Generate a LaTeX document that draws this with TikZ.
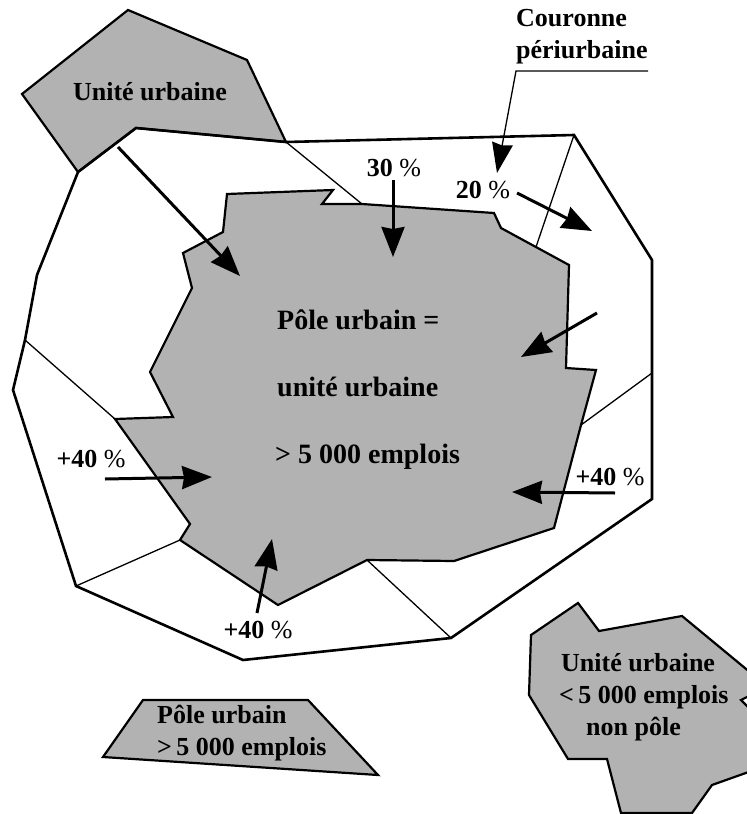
\documentclass[tikz,border=0pt]{standalone}
\usepackage{xcolor}
\usepackage{fontspec}
\setmainfont{Liberation Serif}
\usetikzlibrary{positioning, arrows.meta}
\definecolor{polegray}{RGB}{178,178,178}
\newcommand{\pct}{\textmd{\%}}

\begin{document}
\begin{tikzpicture}[x=1pt, y=-1pt]

	% Styles
	\tikzset{
		zone/.style={draw=black, line width=2.2pt, fill=polegray, line join=miter},
		ring/.style={draw=black, line width=2.6pt, line join=miter},
		border/.style={draw=black, line width=1.3pt},
		label/.style={font=\bfseries\fontsize{26}{32}\selectfont, inner sep=0pt, align=left},
		biglabel/.style={label, font=\bfseries\fontsize{28}{34}\selectfont},
		arrow/.style={line width=3pt, -{Stealth[length=30pt, width=23pt, inset=2pt]}},
		leader/.style={line width=1.3pt, -{Stealth[length=30pt, width=21pt, inset=2pt]}}
	}

	\useasboundingbox (0,0) rectangle (747,814);
	\clip (0,0) rectangle (747,814);

	% Urban pole
	\draw[zone] (227,194) -- (333,190) -- (322,204) -- (362,204) -- (494,213) -- (501,228)
		-- (569,265) -- (566,368) -- (596,370) -- (581,425) -- (554,528) -- (454,561)
		-- (367,560) -- (278,605) -- (180,540) -- (190,524) -- (115,419) -- (173,417)
		-- (150,372) -- (192,288) -- (183,253) -- (223,232) -- cycle;

	% Neighbouring urban unit
	\draw[zone] (128,10) -- (247,60) -- (286,142) -- (136,128) -- (78,172) -- (22,94) -- cycle;

	% Outer ring
	\draw[ring] (78,172) -- (136,128) -- (286,142) -- (574,135) -- (652,260) -- (652,499)
		-- (451,638) -- (243,660) -- (76,586) -- (13,390) -- (25,340) -- (37,275) -- cycle;

	% Commune borders
	\draw[border] (286,142) -- (362,204);
	\draw[border] (574,135) -- (536,247);
	\draw[border] (652,373) -- (581,425);
	\draw[border] (25,340) -- (115,419);
	\draw[border] (76,586) -- (180,540);
	\draw[border] (367,560) -- (451,638);

	% Legend shapes
	\draw[zone] (143,700) -- (308,700) -- (378,775) -- (103,757) -- cycle;
	\draw[zone] (578,603) -- (599,631) -- (682,616) -- (757,678) -- (757,692) -- (741,700)
		-- (757,716) -- (757,769) -- (712,785) -- (692,813) -- (621,813) -- (607,759)
		-- (568,759) -- (529,695) -- (531,635) -- cycle;

	% Labels
	\node (unit) [label, anchor=center] at (150,92) {Unité urbaine};
	\node (crown) [label, anchor=west] at (516,37) {Couronne\\périurbaine};
	\node (share1) [label, anchor=center] at (394,168) {30 \pct};
	\node (share2) [label, anchor=center] at (483,190) {20 \pct};
	\node (pole) [biglabel, anchor=west] at (275,390) {\hspace*{2pt}Pôle urbain =\\[33pt]\hspace*{2pt}unité urbaine\\[33pt]>\ 5 000 emplois};
	\node (share3) [label, anchor=center] at (91,459) {+40 \pct};
	\node (share4) [label, anchor=center] at (610,477) {+40 \pct};
	\node (share5) [label, anchor=center] at (258,630) {+40 \pct};
	\node (legend1) [label, anchor=west] at (157,733) {Pôle urbain\\>\,5 000 emplois};
	\node (legend2) [label, anchor=west] at (559,697) {\hspace*{2pt}Unité urbaine\\<\,5 000 emplois\\\hspace*{27pt}non pôle};

	% Arrow ends
	\coordinate (a1) at (118,147);
	\coordinate (b1) at (240,276);
	\coordinate (a2) at (393,180);
	\coordinate (b2) at (393,257);
	\coordinate (a3) at (517,193);
	\coordinate (b3) at (592,231);
	\coordinate (a4) at (597,313);
	\coordinate (b4) at (521,357);
	\coordinate (a5) at (105,479);
	\coordinate (b5) at (212,477);
	\coordinate (a6) at (615,493);
	\coordinate (b6) at (512,492);
	\coordinate (a7) at (257,613);
	\coordinate (b7) at (272,539);

	% Arrows
	\draw[arrow] (a1) -- (b1);
	\draw[arrow] (a2) -- (b2);
	\draw[arrow] (a3) -- (b3);
	\draw[arrow] (a4) -- (b4);
	\draw[arrow] (a5) -- (b5);
	\draw[arrow] (a6) -- (b6);
	\draw[arrow] (a7) -- (b7);

	% Crown leader
	\coordinate (c1) at (648,71);
	\coordinate (c2) at (516,71);
	\coordinate (c3) at (497,173);
	\draw[leader] (c1) -- (c2) -- (c3);

\end{tikzpicture}
\end{document}
